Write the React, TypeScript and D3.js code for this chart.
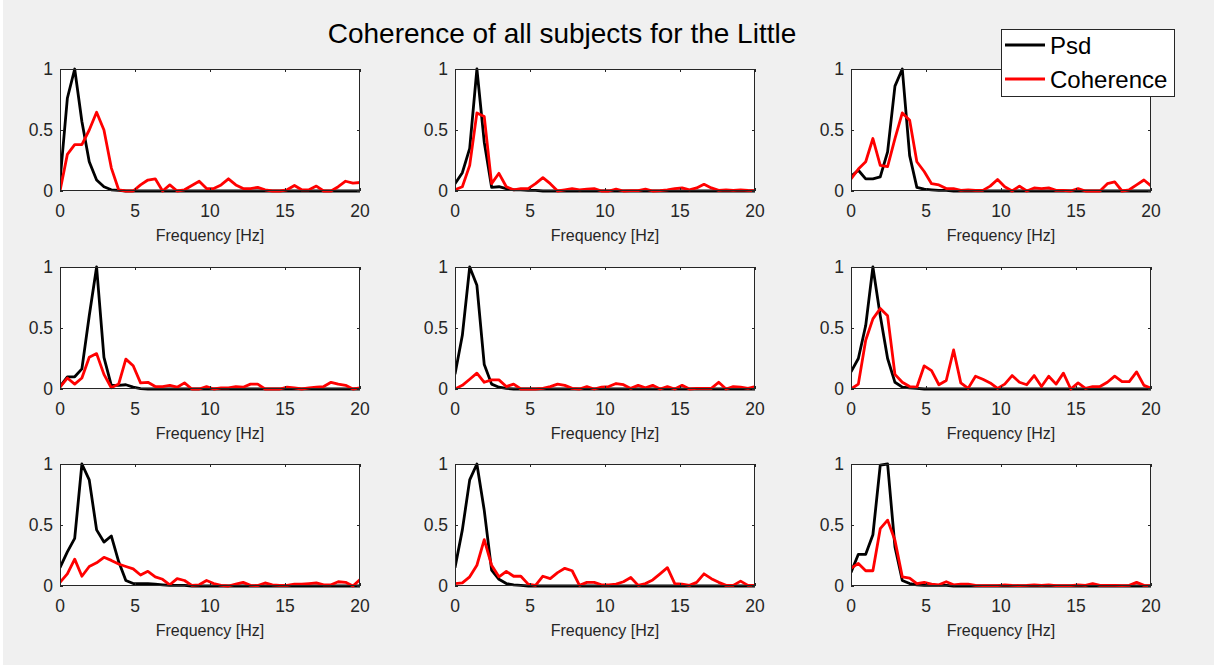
import React, { useEffect, useRef } from "react";
import * as d3 from "d3";

const title = "Coherence of all subjects for the Little";
const xLabel = "Frequency [Hz]";
const seriesNames = ["Psd", "Coherence"];
const xTicks = [0, 5, 10, 15, 20];
const yTicks = [0, 0.5, 1];
const yTickLabels = ["0", "0.5", "1"];

const freqs = [0, 0.49, 0.98, 1.46, 1.95, 2.44, 2.93, 3.42, 3.91, 4.39, 4.88, 5.37, 5.86, 6.35, 6.84, 7.32, 7.81, 8.3, 8.79, 9.28, 9.77, 10.25, 10.74, 11.23, 11.72, 12.21, 12.7, 13.18, 13.67, 14.16, 14.65, 15.14, 15.63, 16.11, 16.6, 17.09, 17.58, 18.07, 18.55, 19.04, 19.53, 20.02];

const psd1 = [0.08, 0.76, 1.0, 0.57, 0.24, 0.09, 0.035, 0.01, 0.005, 0, 0, 0, 0, 0, 0, 0, 0, 0, 0, 0, 0, 0, 0, 0, 0, 0, 0, 0, 0, 0, 0, 0, 0, 0, 0, 0, 0, 0, 0, 0, 0, 0];
const coh1 = [0, 0.3, 0.38, 0.38, 0.5, 0.645, 0.5, 0.19, 0.01, 0, 0, 0.05, 0.09, 0.1, 0, 0.05, 0, 0.01, 0.045, 0.08, 0.02, 0.02, 0.05, 0.1, 0.05, 0.02, 0.02, 0.03, 0.01, 0, 0, 0.01, 0.045, 0.01, 0.01, 0.04, 0, 0, 0.035, 0.08, 0.065, 0.07];

const psd2 = [0.06, 0.15, 0.35, 1.0, 0.4, 0.03, 0.035, 0.02, 0.01, 0.01, 0.005, 0.005, 0, 0, 0, 0, 0, 0, 0, 0, 0, 0, 0, 0, 0, 0, 0, 0, 0, 0, 0, 0, 0, 0, 0, 0, 0, 0, 0, 0, 0, 0];
const coh2 = [0.01, 0.035, 0.21, 0.64, 0.61, 0.06, 0.145, 0.035, 0.01, 0.02, 0.02, 0.06, 0.11, 0.06, 0, 0.01, 0.02, 0.01, 0.015, 0.02, 0, 0, 0.015, 0, 0.003, 0.003, 0.015, 0, 0.003, 0.01, 0.02, 0.025, 0.01, 0.025, 0.055, 0.025, 0.005, 0.01, 0.005, 0.01, 0.005, 0.003];

const psd3 = [0.12, 0.17, 0.1, 0.1, 0.115, 0.32, 0.86, 1.0, 0.29, 0.03, 0.015, 0.01, 0.005, 0.005, 0, 0, 0, 0, 0, 0, 0, 0, 0, 0, 0, 0, 0, 0, 0, 0, 0, 0, 0, 0, 0, 0, 0, 0, 0, 0, 0, 0];
const coh3 = [0.1, 0.18, 0.24, 0.43, 0.21, 0.2, 0.43, 0.64, 0.58, 0.24, 0.16, 0.06, 0.05, 0.02, 0.02, 0.005, 0.01, 0.005, 0.005, 0.04, 0.095, 0.035, 0, 0.04, 0, 0.025, 0.02, 0.025, 0.005, 0.005, 0, 0.02, 0, 0, 0, 0.06, 0.075, 0, 0.01, 0.05, 0.09, 0.04];

const psd4 = [0.02, 0.1, 0.1, 0.165, 0.6, 1.0, 0.26, 0.03, 0.03, 0.035, 0.015, 0.003, 0, 0, 0, 0, 0, 0, 0, 0, 0, 0, 0, 0, 0, 0, 0, 0, 0, 0, 0, 0, 0, 0, 0, 0, 0, 0, 0, 0, 0, 0];
const coh4 = [0.015, 0.09, 0.04, 0.09, 0.26, 0.29, 0.12, 0.01, 0.04, 0.245, 0.19, 0.05, 0.055, 0.02, 0.02, 0.03, 0.015, 0.05, 0, 0, 0.02, 0, 0.01, 0.01, 0.02, 0.015, 0.04, 0.04, 0, 0, 0, 0.015, 0.01, 0, 0.01, 0.015, 0.02, 0.055, 0.04, 0.03, 0, 0.01];

const psd5 = [0.12, 0.44, 1.0, 0.85, 0.2, 0.04, 0.015, 0.005, 0, 0, 0, 0, 0, 0, 0, 0, 0, 0, 0, 0, 0, 0, 0, 0, 0, 0, 0, 0, 0, 0, 0, 0, 0, 0, 0, 0, 0, 0, 0, 0, 0, 0];
const coh5 = [0, 0.03, 0.08, 0.13, 0.055, 0.075, 0.075, 0.02, 0.04, 0, 0, 0, 0.005, 0.02, 0.04, 0.03, 0.005, 0, 0.02, 0, 0.015, 0.02, 0.045, 0.035, 0.005, 0.03, 0.01, 0.03, 0, 0.02, 0, 0.03, 0, 0.005, 0.005, 0.005, 0.055, 0, 0.02, 0.015, 0.005, 0.02];

const psd6 = [0.14, 0.25, 0.52, 1.0, 0.6, 0.25, 0.055, 0.015, 0.01, 0.005, 0, 0, 0, 0, 0, 0, 0, 0, 0, 0, 0, 0, 0, 0, 0, 0, 0, 0, 0, 0, 0, 0, 0, 0, 0, 0, 0, 0, 0, 0, 0, 0];
const coh6 = [0, 0.04, 0.4, 0.575, 0.66, 0.6, 0.12, 0.055, 0.02, 0.015, 0.19, 0.15, 0.035, 0.07, 0.32, 0.05, 0.005, 0.105, 0.08, 0.05, 0.005, 0.04, 0.11, 0.055, 0.035, 0.11, 0.02, 0.105, 0.04, 0.13, 0, 0.05, 0.005, 0.02, 0.02, 0.055, 0.105, 0.06, 0.06, 0.14, 0.03, 0.005];

const psd7 = [0.15, 0.28, 0.39, 1.0, 0.87, 0.46, 0.36, 0.41, 0.2, 0.045, 0.02, 0.02, 0.02, 0.015, 0.01, 0.005, 0.005, 0.005, 0, 0, 0, 0, 0, 0, 0, 0, 0, 0, 0, 0, 0, 0, 0, 0, 0, 0, 0, 0, 0, 0, 0, 0];
const coh7 = [0.03, 0.1, 0.22, 0.08, 0.16, 0.19, 0.235, 0.21, 0.18, 0.16, 0.14, 0.09, 0.12, 0.075, 0.055, 0.01, 0.06, 0.045, 0.005, 0.01, 0.045, 0.02, 0.005, 0, 0.015, 0.03, 0.005, 0.003, 0.025, 0.01, 0.005, 0.005, 0.015, 0.015, 0.02, 0.025, 0.01, 0.01, 0.035, 0.03, 0, 0.055];

const psd8 = [0.15, 0.46, 0.87, 1.0, 0.62, 0.13, 0.055, 0.02, 0.01, 0.005, 0, 0, 0, 0, 0, 0, 0, 0, 0, 0, 0, 0, 0, 0, 0, 0, 0, 0, 0, 0, 0, 0, 0, 0, 0, 0, 0, 0, 0, 0, 0, 0];
const coh8 = [0.02, 0.025, 0.075, 0.17, 0.38, 0.17, 0.075, 0.12, 0.08, 0.08, 0.015, 0.005, 0.08, 0.06, 0.11, 0.145, 0.125, 0.005, 0.03, 0.03, 0.01, 0.01, 0.015, 0.035, 0.07, 0.005, 0.02, 0.05, 0.1, 0.15, 0.02, 0.015, 0.005, 0.03, 0.1, 0.06, 0.03, 0.005, 0.005, 0.04, 0.005, 0.005];

const psd9 = [0.11, 0.26, 0.26, 0.42, 0.99, 1.0, 0.32, 0.045, 0.02, 0.01, 0.005, 0.005, 0.005, 0.005, 0, 0, 0, 0, 0, 0, 0, 0, 0, 0, 0, 0, 0, 0, 0, 0, 0, 0, 0, 0, 0, 0, 0, 0, 0, 0, 0, 0];
const coh9 = [0.145, 0.185, 0.125, 0.125, 0.47, 0.54, 0.375, 0.075, 0.065, 0.02, 0.03, 0.015, 0.01, 0.035, 0.01, 0.015, 0.015, 0.005, 0.003, 0.003, 0.003, 0.01, 0.005, 0.003, 0.005, 0.01, 0.005, 0.01, 0.003, 0.003, 0.003, 0.01, 0.005, 0.02, 0.005, 0.005, 0.005, 0.003, 0.005, 0.03, 0.005, 0.003];

const psdSeries = [psd1, psd2, psd3, psd4, psd5, psd6, psd7, psd8, psd9];
const cohSeries = [coh1, coh2, coh3, coh4, coh5, coh6, coh7, coh8, coh9];

const W = 1214;
const H = 665;
const colLefts = [60, 455, 851];
const rowTops = [69, 267, 464];
const pw = 300;
const ph = 122;
const FONT = "'Liberation Sans', Arial, Helvetica, sans-serif";
const axisColor = "#262626";

export default function App() {
  const ref = useRef<SVGSVGElement | null>(null);

  useEffect(() => {
    const svg = d3.select(ref.current);
    svg.selectAll("*").remove();

    svg.append("rect").attr("width", W).attr("height", H).attr("fill", "#f0f0f0");
    svg.append("rect").attr("width", 3).attr("height", H).attr("fill", "#ffffff");

    const x = d3.scaleLinear().domain([0, 20]).range([0, pw]);
    const y = d3.scaleLinear().domain([0, 1]).range([ph, 0]);

    const defs = svg.append("defs");
    defs.append("clipPath").attr("id", "plotclip")
      .append("rect").attr("x", 0).attr("y", -3).attr("width", pw).attr("height", ph + 6);

    const line = d3.line<number>()
      .x((_, i) => x(freqs[i]))
      .y((d) => y(d));

    for (let k = 0; k < 9; k++) {
      const r = Math.floor(k / 3);
      const c = k % 3;
      const g = svg.append("g").attr("transform", `translate(${colLefts[c]},${rowTops[r]})`);

      g.append("rect").attr("width", pw).attr("height", ph).attr("fill", "#ffffff");

      const lines = g.append("g").attr("clip-path", "url(#plotclip)");
      lines.append("path")
        .attr("d", line(psdSeries[k]) as string)
        .attr("fill", "none").attr("stroke", "#000000").attr("stroke-width", 2.8)
        .attr("stroke-linejoin", "round");
      lines.append("path")
        .attr("d", line(cohSeries[k]) as string)
        .attr("fill", "none").attr("stroke", "#ff0000").attr("stroke-width", 2.8)
        .attr("stroke-linejoin", "round");

      // box
      g.append("rect").attr("x", 0.5).attr("y", 0.5).attr("width", pw - 1).attr("height", ph - 1)
        .attr("fill", "none").attr("stroke", axisColor).attr("stroke-width", 1);

      // x ticks (inward, top and bottom)
      xTicks.forEach((t) => {
        const xx = Math.round(x(t)) + 0.5;
        g.append("line").attr("x1", xx).attr("x2", xx).attr("y1", ph).attr("y2", ph - 3)
          .attr("stroke", axisColor);
        g.append("line").attr("x1", xx).attr("x2", xx).attr("y1", 0).attr("y2", 3)
          .attr("stroke", axisColor);
        g.append("text").attr("x", x(t)).attr("y", ph + 26)
          .attr("text-anchor", "middle").attr("font-family", FONT).attr("font-size", 17.5)
          .attr("fill", axisColor).text(String(t));
      });
      yTicks.forEach((t, i) => {
        const yy = Math.round(y(t)) + 0.5;
        g.append("line").attr("x1", 0).attr("x2", 3).attr("y1", yy).attr("y2", yy)
          .attr("stroke", axisColor);
        g.append("line").attr("x1", pw).attr("x2", pw - 3).attr("y1", yy).attr("y2", yy)
          .attr("stroke", axisColor);
        g.append("text").attr("x", -7).attr("y", y(t)).attr("dy", "0.36em")
          .attr("text-anchor", "end").attr("font-family", FONT).attr("font-size", 17.5)
          .attr("fill", axisColor).text(yTickLabels[i]);
      });
      g.append("text").attr("x", pw / 2).attr("y", ph + 50)
        .attr("text-anchor", "middle").attr("font-family", FONT).attr("font-size", 16)
        .attr("fill", axisColor).text(xLabel);
    }

    // title
    svg.append("text").attr("x", 562).attr("y", 43).attr("text-anchor", "middle")
      .attr("font-family", FONT).attr("font-size", 28).attr("fill", "#000000").text(title);

    // legend
    const lg = svg.append("g").attr("transform", "translate(1001,29)");
    lg.append("rect").attr("x", 0.5).attr("y", 0.5).attr("width", 173).attr("height", 67)
      .attr("fill", "#ffffff").attr("stroke", axisColor).attr("stroke-width", 1);
    const colors = ["#000000", "#ff0000"];
    const ys = [16, 50];
    seriesNames.forEach((name, i) => {
      lg.append("line").attr("x1", 4).attr("x2", 44).attr("y1", ys[i]).attr("y2", ys[i])
        .attr("stroke", colors[i]).attr("stroke-width", 2.8);
      lg.append("text").attr("x", 49).attr("y", ys[i] + 9)
        .attr("font-family", FONT).attr("font-size", 24).attr("fill", "#000000").text(name);
    });
  }, []);

  return (
    <div style={{ position: "fixed", left: 0, top: 0 }}>
      <svg ref={ref} width={W} height={H} style={{ display: "block" }} />
    </div>
  );
}
